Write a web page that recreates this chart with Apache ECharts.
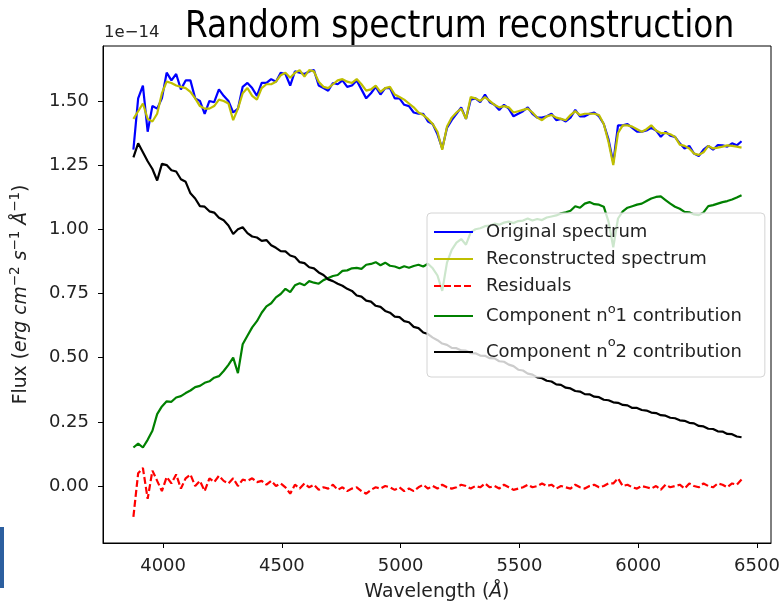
<!DOCTYPE html>
<html>
<head>
<meta charset="utf-8">
<title>Random spectrum reconstruction</title>
<script src="https://cdn.jsdelivr.net/npm/echarts@6/dist/echarts.min.js"></script>
<style>
  html, body { margin: 0; padding: 0; background: #fff; }
  #chart { width: 779px; height: 605px; }
</style>
</head>
<body>
<div id="chart"></div>
<script>
// Wavelength sampling (Angstrom)
const wavelength = [
  3875,3895,3915,3935,3955,3975,3995,4015,4035,4055,
  4075,4095,4115,4135,4155,4175,4195,4215,4235,4255,
  4275,4295,4315,4335,4355,4375,4395,4415,4435,4455,
  4475,4495,4515,4535,4555,4575,4595,4615,4635,4655,
  4675,4695,4715,4735,4755,4775,4795,4815,4835,4855,
  4875,4895,4915,4935,4955,4975,4995,5015,5035,5055,
  5075,5095,5115,5135,5155,5175,5195,5215,5235,5255,
  5275,5295,5315,5335,5355,5375,5395,5415,5435,5455,
  5475,5495,5515,5535,5555,5575,5595,5615,5635,5655,
  5675,5695,5715,5735,5755,5775,5795,5815,5835,5855,
  5875,5895,5915,5935,5955,5975,5995,6015,6035,6055,
  6075,6095,6115,6135,6155,6175,6195,6215,6235,6255,
  6275,6295,6315,6335,6355,6375,6395,6415,6435
];

// Fluxes in units of 1e-14 erg cm^-2 s^-1 A^-1
const original = [
  1.31,1.51,1.56,1.38,1.48,1.47,1.51,1.61,1.58,1.605,
  1.545,1.58,1.58,1.51,1.50,1.45,1.50,1.495,1.545,1.52,
  1.50,1.455,1.47,1.555,1.57,1.55,1.52,1.57,1.57,1.585,
  1.575,1.61,1.605,1.56,1.615,1.61,1.605,1.615,1.62,1.56,
  1.55,1.54,1.57,1.565,1.58,1.555,1.56,1.58,1.545,1.51,
  1.53,1.555,1.525,1.55,1.55,1.51,1.51,1.485,1.48,1.455,
  1.45,1.45,1.42,1.41,1.37,1.315,1.395,1.425,1.45,1.475,
  1.43,1.505,1.51,1.495,1.525,1.495,1.485,1.465,1.485,1.47,
  1.44,1.45,1.46,1.475,1.45,1.435,1.435,1.44,1.45,1.425,
  1.43,1.42,1.435,1.465,1.44,1.44,1.45,1.455,1.44,1.41,
  1.35,1.26,1.405,1.405,1.41,1.395,1.38,1.38,1.385,1.395,
  1.385,1.36,1.38,1.365,1.36,1.335,1.315,1.325,1.295,1.285,
  1.31,1.325,1.31,1.328,1.327,1.322,1.335,1.327,1.343
];

const reconstructed = [
  1.43,1.46,1.49,1.43,1.42,1.45,1.53,1.575,1.57,1.56,
  1.555,1.55,1.535,1.51,1.48,1.47,1.47,1.48,1.505,1.50,
  1.49,1.425,1.47,1.53,1.55,1.52,1.505,1.55,1.565,1.565,
  1.575,1.60,1.61,1.59,1.61,1.62,1.595,1.62,1.615,1.575,
  1.555,1.55,1.565,1.58,1.585,1.575,1.57,1.585,1.565,1.54,
  1.545,1.56,1.535,1.55,1.555,1.525,1.515,1.505,1.49,1.475,
  1.455,1.445,1.43,1.41,1.38,1.31,1.40,1.435,1.455,1.47,
  1.43,1.515,1.51,1.50,1.515,1.50,1.485,1.475,1.48,1.475,
  1.455,1.46,1.465,1.47,1.455,1.435,1.425,1.44,1.445,1.435,
  1.43,1.425,1.445,1.46,1.445,1.45,1.45,1.45,1.445,1.41,
  1.34,1.25,1.375,1.405,1.405,1.40,1.39,1.38,1.39,1.405,
  1.385,1.375,1.375,1.37,1.36,1.33,1.325,1.315,1.295,1.29,
  1.30,1.325,1.315,1.318,1.322,1.327,1.325,1.322,1.318
];

const residuals = [
  -0.12,0.05,0.07,-0.05,0.06,0.02,-0.02,0.035,0.01,0.045,
  -0.01,0.03,0.045,0.0,0.02,-0.02,0.03,0.015,0.04,0.02,
  0.01,0.03,0.0,0.025,0.02,0.03,0.015,0.02,0.005,0.02,
  0.0,0.01,-0.005,-0.03,0.005,-0.01,0.01,-0.005,0.005,-0.015,
  -0.005,-0.01,0.005,-0.015,-0.005,-0.02,-0.01,-0.005,-0.02,-0.03,
  -0.015,-0.005,-0.01,0.0,-0.005,-0.015,-0.005,-0.02,-0.01,-0.02,
  -0.005,0.005,-0.01,0.0,-0.01,0.005,-0.005,-0.01,-0.005,0.005,
  0.0,-0.01,0.0,-0.005,0.01,-0.005,0.0,-0.01,0.005,-0.005,
  -0.015,-0.01,-0.005,0.005,-0.005,0.0,0.01,0.0,0.005,-0.01,
  0.0,-0.005,-0.01,0.005,-0.005,-0.01,0.0,0.005,-0.005,0.0,
  0.01,0.01,0.03,0.0,0.005,-0.005,-0.01,0.0,-0.005,-0.01,
  0.0,-0.015,0.005,-0.005,0.0,0.005,-0.01,0.01,0.0,-0.005,
  0.01,0.0,-0.005,0.01,0.005,-0.005,0.01,0.005,0.025
];

const component1 = [
  0.15,0.165,0.15,0.18,0.215,0.28,0.31,0.33,0.328,0.345,
  0.35,0.362,0.372,0.385,0.39,0.402,0.408,0.422,0.428,0.448,
  0.472,0.50,0.44,0.552,0.585,0.618,0.642,0.675,0.70,0.712,
  0.735,0.748,0.768,0.755,0.782,0.79,0.782,0.798,0.792,0.788,
  0.802,0.81,0.818,0.822,0.838,0.84,0.848,0.85,0.846,0.862,
  0.865,0.872,0.86,0.87,0.858,0.855,0.848,0.856,0.85,0.857,
  0.862,0.855,0.866,0.848,0.82,0.76,0.87,0.92,0.948,0.962,
  0.94,0.988,1.0,1.004,1.012,1.014,1.022,1.018,1.026,1.03,
  1.024,1.032,1.034,1.042,1.034,1.04,1.036,1.046,1.05,1.054,
  1.062,1.066,1.072,1.09,1.084,1.1,1.106,1.098,1.096,1.088,
  1.03,0.93,1.042,1.07,1.084,1.09,1.096,1.1,1.11,1.12,
  1.126,1.128,1.114,1.1,1.088,1.08,1.068,1.066,1.058,1.055,
  1.066,1.09,1.094,1.1,1.106,1.11,1.116,1.124,1.133
];

const component2 = [
  1.28,1.335,1.30,1.265,1.235,1.19,1.255,1.25,1.23,1.225,
  1.195,1.185,1.14,1.12,1.09,1.088,1.07,1.065,1.045,1.035,
  1.015,0.982,1.0,1.008,0.985,0.972,0.968,0.955,0.958,0.938,
  0.928,0.915,0.914,0.898,0.892,0.872,0.868,0.852,0.848,0.832,
  0.822,0.805,0.798,0.788,0.78,0.768,0.76,0.742,0.738,0.722,
  0.718,0.702,0.698,0.682,0.675,0.66,0.658,0.642,0.638,0.62,
  0.615,0.598,0.592,0.578,0.568,0.555,0.55,0.538,0.537,0.528,
  0.527,0.518,0.517,0.508,0.507,0.498,0.497,0.486,0.484,0.473,
  0.467,0.453,0.45,0.438,0.434,0.423,0.42,0.41,0.407,0.396,
  0.394,0.383,0.38,0.37,0.368,0.358,0.357,0.348,0.346,0.336,
  0.334,0.326,0.324,0.316,0.314,0.304,0.304,0.296,0.294,0.286,
  0.284,0.276,0.274,0.266,0.264,0.256,0.254,0.246,0.244,0.234,
  0.232,0.223,0.222,0.213,0.212,0.203,0.202,0.193,0.19
];

const xTicks = [4000, 4500, 5000, 5500, 6000, 6500];
const yTicks = [0, 0.25, 0.5, 0.75, 1.0, 1.25, 1.5];

const seriesNames = [
  'Original spectrum',
  'Reconstructed spectrum',
  'Residuals',
  'Component n\u1d521 contribution',
  'Component n\u1d522 contribution'
];

const FONT = 'DejaVu Sans, Liberation Sans, sans-serif';
const pairs = ys => wavelength.map((w, i) => [w, ys[i]]);

const chart = echarts.init(document.getElementById('chart'), null, { renderer: 'canvas' });

function lineSeries(name, values, color, dashed) {
  return {
    name: name,
    type: 'line',
    data: pairs(values),
    symbol: 'none',
    smooth: false,
    animation: false,
    lineStyle: { color: color, width: 2.2, type: dashed ? [7, 3] : 'solid' },
    itemStyle: { color: color },
    emphasis: { disabled: true }
  };
}

chart.setOption({
  backgroundColor: '#fff',
  animation: false,
  title: {
    text: 'Random spectrum reconstruction',
    left: 180,
    top: 4,
    textStyle: {
      fontFamily: 'DejaVu Sans Condensed, DejaVu Sans, sans-serif',
      fontSize: 36.5,
      fontWeight: 'normal',
      color: '#000'
    }
  },
  grid: {
    left: 103, top: 46, right: 8, bottom: 62,
    outerBoundsMode: 'none',
    containLabel: false,
    show: true, borderColor: '#000', borderWidth: 1,
    backgroundColor: 'transparent'
  },
  xAxis: {
    type: 'value',
    min: 3747, max: 6559,
    name: '{r|Wavelength (}{i|Å}{r|)}',
    nameLocation: 'middle',
    nameGap: 40,
    nameTextStyle: {
      rich: {
        r: { fontFamily: FONT, fontSize: 18.8, color: '#222' },
        i: { fontFamily: FONT, fontSize: 18.8, fontStyle: 'italic', color: '#222' }
      }
    },
    axisLine: { show: true, onZero: false, lineStyle: { color: '#000', width: 1 } },
    axisTick: { show: true, length: 5, lineStyle: { color: '#000' }, customValues: xTicks },
    axisLabel: {
      customValues: xTicks, fontFamily: FONT, fontSize: 18, color: '#222', margin: 14,
      formatter: v => String(v)
    },
    splitLine: { show: false }
  },
  yAxis: {
    type: 'value',
    min: -0.222, max: 1.714,
    name: '{r|Flux (}{i|erg cm}{s|−2}{i| s}{s|−1}{i| Å}{s|−1}{r|)}',
    nameLocation: 'middle',
    nameRotate: 90,
    nameGap: 69,
    nameTextStyle: {
      rich: {
        r: { fontFamily: FONT, fontSize: 18.8, color: '#222', lineHeight: 26 },
        i: { fontFamily: FONT, fontSize: 18.8, fontStyle: 'italic', color: '#222', lineHeight: 26 },
        s: { fontFamily: FONT, fontSize: 13.5, color: '#222', lineHeight: 13, verticalAlign: 'top' }
      }
    },
    axisLine: { show: true, onZero: false, lineStyle: { color: '#000', width: 1 } },
    axisTick: { show: true, length: 5, lineStyle: { color: '#000' }, customValues: yTicks },
    axisLabel: {
      customValues: yTicks,
      fontFamily: FONT, fontSize: 18, color: '#222', margin: 14,
      formatter: v => v.toFixed(2)
    },
    splitLine: { show: false }
  },
  legend: {
    data: seriesNames,
    orient: 'vertical',
    left: 427,
    top: 213,
    itemWidth: 39,
    itemHeight: 12,
    itemGap: 7,
    padding: [9, 23, 9, 6],
    backgroundColor: 'rgba(255,255,255,0.8)',
    borderColor: '#d4d4d4',
    borderWidth: 1,
    borderRadius: 4,
    selectedMode: false,
    itemStyle: { opacity: 0, color: 'transparent', borderWidth: 0 },
    textStyle: {
      fontFamily: FONT, fontSize: 18, color: '#222', lineHeight: 20, padding: [0, 0, 0, 8],
      rich: {
        a: { fontFamily: FONT, fontSize: 18, color: '#222', lineHeight: 26 },
        sa: { fontFamily: FONT, fontSize: 13, color: '#222', lineHeight: 14, verticalAlign: 'top' },
        b: { fontFamily: FONT, fontSize: 18, color: '#222', lineHeight: 32 },
        sb: { fontFamily: FONT, fontSize: 13, color: '#222', lineHeight: 20, verticalAlign: 'top' }
      }
    },
    formatter: name => {
      const parts = name.split('\u1d52');
      if (parts.length === 1) return name;
      const k = parts[1].charAt(0) === '2' ? 'b' : 'a';
      return '{' + k + '|' + parts[0] + '}{s' + k + '|o}{' + k + '|' + parts[1] + '}';
    }
  },
  graphic: [
    {
      type: 'text',
      left: 104,
      top: 24,
      style: { text: '1e\u221214', font: '16.5px DejaVu Sans', fill: '#222' }
    },
    {
      type: 'rect',
      shape: { x: 0, y: 527, width: 4, height: 61 },
      style: { fill: '#2c5f9f' }
    }
  ],
  series: [
    lineSeries(seriesNames[0], original, '#0000ff', false),
    lineSeries(seriesNames[1], reconstructed, '#bfbf00', false),
    lineSeries(seriesNames[2], residuals, '#ff0000', true),
    lineSeries(seriesNames[3], component1, '#008000', false),
    lineSeries(seriesNames[4], component2, '#000000', false)
  ]
});
</script>
</body>
</html>
